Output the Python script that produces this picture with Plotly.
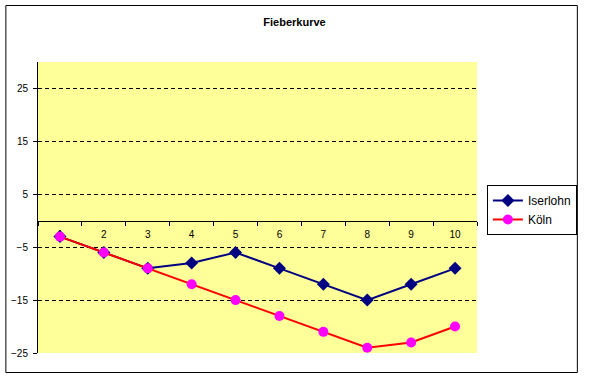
import plotly.graph_objects as go

categories = ["1", "2", "3", "4", "5", "6", "7", "8", "9", "10"]
iserlohn = [-3, -6, -9, -8, -6, -9, -12, -15, -12, -9]
koeln = [-3, -6, -9, -12, -15, -18, -21, -24, -23, -20]
y_ticks = [-25, -15, -5, 5, 15, 25]

W, H = 589, 378
L, R, T, B = 38, 107, 62, 25
pw, ph = W - L - R, H - T - B

def px_x(p):
    return (p - L) / pw

def px_y(p):
    return (H - B - p) / ph

fig = go.Figure()
fig.add_trace(go.Scatter(
    x=categories, y=iserlohn, name="Iserlohn", mode="lines+markers",
    line=dict(color="#000080", width=2),
    marker=dict(symbol="diamond", size=10, color="#000080"),
))
fig.add_trace(go.Scatter(
    x=categories, y=koeln, name="Köln", mode="lines+markers",
    line=dict(color="#FF0000", width=2),
    marker=dict(symbol="circle", size=10, color="#FF00FF"),
))

font = "Arial, Liberation Sans, sans-serif"
fig.update_layout(
    width=W, height=H,
    margin=dict(l=L, r=R, t=T, b=B, pad=0),
    paper_bgcolor="white",
    plot_bgcolor="#FFFF99",
    font=dict(family=font, size=10, color="black"),
    title=dict(text="<b>Fieberkurve</b>", x=0.5, xref="container", xanchor="center",
               y=1 - 22 / H, yref="container", yanchor="middle",
               font=dict(size=11, family=font)),
    showlegend=True,
    legend=dict(x=px_x(492), y=px_y(185), xanchor="left", yanchor="top",
                bordercolor="black", borderwidth=1, bgcolor="white",
                font=dict(size=12, family=font), tracegroupgap=0,
                itemwidth=30),
    xaxis=dict(type="category", range=[-0.5, 9.5], anchor="free",
               position=25 / 55, showline=True, linecolor="black", linewidth=1,
               ticks="outside", ticklen=4, tickcolor="black", tickson="boundaries",
               showgrid=False, zeroline=False, layer="below traces",
               tickfont=dict(size=10, family=font), ticklabelstandoff=4),
    yaxis=dict(range=[-25, 30], tickvals=y_ticks, showline=True, linecolor="black",
               linewidth=1, ticks="outside", ticklen=4, tickcolor="black",
               showgrid=True, gridcolor="black", griddash="4px,3px", gridwidth=1,
               zeroline=False, tickfont=dict(size=10, family=font),
               ticklabelstandoff=3),
)

fig.add_shape(type="rect", xref="paper", yref="paper",
              x0=px_x(5.5), x1=px_x(583.5), y0=px_y(372.5), y1=px_y(5.5),
              line=dict(color="black", width=1), fillcolor="rgba(0,0,0,0)",
              layer="above")

fig.write_html(
    "out.html",
    config={"displayModeBar": False, "responsive": False},
    post_script=("document.body.style.margin='0';document.body.style.padding='0';"
                 "document.body.style.overflow='hidden';"
                 "document.documentElement.style.overflow='hidden';"),
)
